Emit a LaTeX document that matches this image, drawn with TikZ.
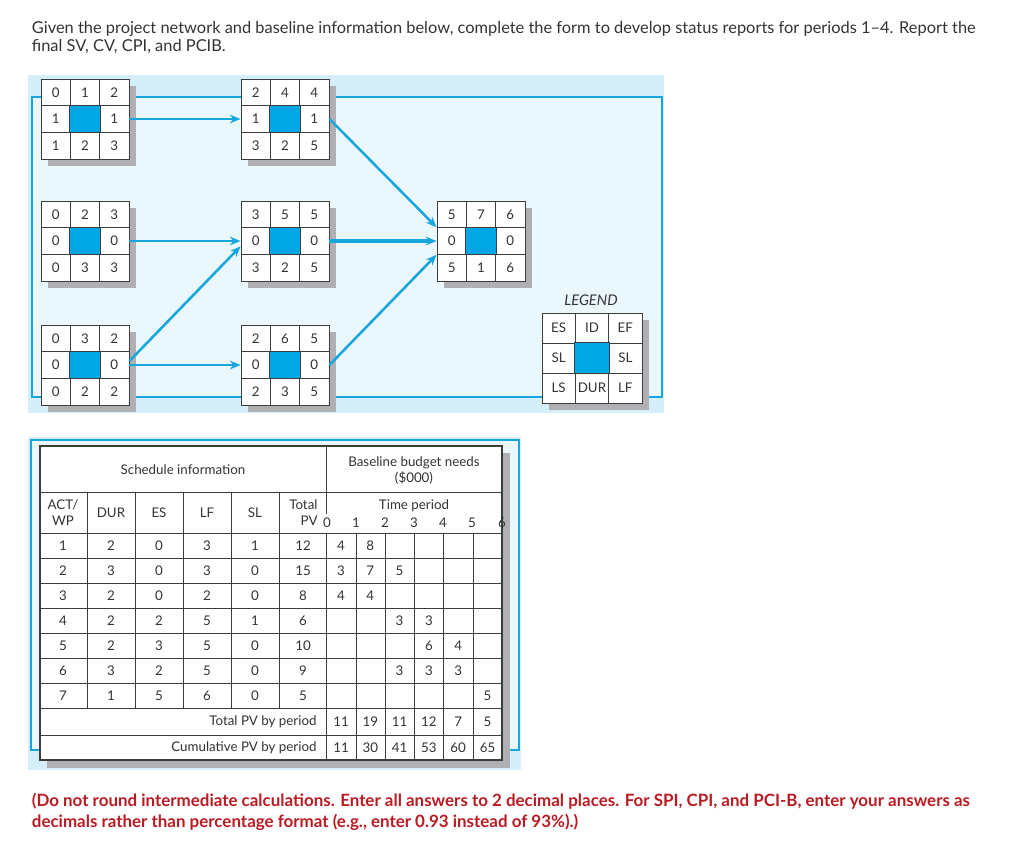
\documentclass[tikz,border=0pt]{standalone}
\usepackage{fontspec}
\setmainfont{Lato}
\usetikzlibrary{arrows.meta}
\definecolor{bgdark}{HTML}{D4EEFA}
\definecolor{bglight}{HTML}{EAF7FD}
\definecolor{flowblue}{HTML}{18A6DF}
\definecolor{idblue}{HTML}{00A7E5}
\definecolor{shadegrey}{HTML}{B0B0B4}
\definecolor{cellline}{HTML}{3C3C3C}
\definecolor{txtgrey}{HTML}{333333}
\definecolor{alertred}{HTML}{BA1A22}

\begin{document}
\begin{tikzpicture}[x=0.75pt,y=-0.75pt,line width=0.7pt,
  cell/.style={draw=cellline,fill=white,inner sep=0pt,text=txtgrey,font=\fontsize{10}{12}\selectfont},
  flow/.style={draw=flowblue,line width=1.9pt,-{Stealth[length=8pt,width=6.5pt]}},
  tab/.style={inner sep=0pt,text=txtgrey,font=\fontsize{10}{12}\selectfont}]
  \useasboundingbox (0,0) rectangle (1024,853);
  \def\actbox(#1)(#2,#3)(#4,#5)(#6){%
    \fill[shadegrey] ({#2+7},{#3+7}) rectangle ++({3*#4},{3*#5});
    \foreach \v [count=\k from 0] in {#6} {
      \pgfmathtruncatemacro\ri{div(\k,3)}
      \pgfmathtruncatemacro\ci{mod(\k,3)}
      \node[cell,minimum width={#4*0.75pt},minimum height={#5*0.75pt}] (#1-\ri\ci)
        at ({#2+(\ci+0.5)*#4},{#3+(\ri+0.5)*#5}) {\v};
    }
    \fill[idblue,draw=cellline] (#1-11.south west) rectangle (#1-11.north east);
  }

  \node[anchor=base west,text=txtgrey,font=\fontsize{12.3}{14}\selectfont] (q1) at (27,33)
    {Given the project network and baseline information below, complete the form to develop status reports for periods 1--4. Report the};
  \node[anchor=base west,text=txtgrey,font=\fontsize{12.3}{14}\selectfont] (q2) at (27,51)
    {final SV, CV, CPI, and PCIB.};

  \fill[bgdark] (28,75) rectangle (664,413);
  \draw[flowblue,fill=bglight,line width=1.2pt] (32,97) rectangle (662,397);

  \actbox(a1)(41,79)(29.33,26.67)(0,1,2,1,{},1,1,2,3)
  \actbox(a4)(241,79)(29.33,26.67)(2,4,4,1,{},1,3,2,5)
  \actbox(a2)(41,201)(29.33,26.67)(0,2,3,0,{},0,0,3,3)
  \actbox(a5)(241,201)(29.33,26.67)(3,5,5,0,{},0,3,2,5)
  \actbox(a7)(437,201)(29.33,26.67)(5,7,6,0,{},0,5,1,6)
  \actbox(a3)(41,325)(29.33,26.67)(0,3,2,0,{},0,0,2,2)
  \actbox(a6)(241,325)(29.33,26.67)(2,6,5,0,{},0,2,3,5)
  \actbox(lg)(542,313)(33.33,30)(ES,ID,EF,SL,{},SL,LS,DUR,LF)
  \node[tab,font=\fontsize{11}{13}\selectfont\itshape] (lgtitle) at (591,300) {LEGEND};

  \draw[flow] (a1-12.east) -- (a4-10.west);
  \draw[flow] (a4-12.east) -- (a7-10.north west);
  \draw[flow] (a2-12.east) -- (a5-10.west);
  \draw[flow] ([yshift=3pt]a3-12.east) -- ([yshift=-4pt]a5-10.west);
  \draw[flow] (a3-12.east) -- (a6-10.west);
  \draw[flow,line width=2.8pt] (a5-12.east) -- (a7-10.west);
  \draw[flow] (a6-12.east) -- (a7-10.south west);

  \fill[bgdark] (28,437) rectangle (521,770);
  \draw[flowblue,fill=bglight,line width=1.2pt] (31,440) rectangle (519,750);
  \fill[shadegrey] (47,453) rectangle (510,768);
  \draw[fill=white,draw=cellline,line width=1.1pt] (40,446) rectangle (502,760);
  \draw[cellline] (40,492) -- (502,492);
  \foreach \y in {533,558,...,708} \draw[cellline] (40,\y) -- (502,\y);
  \draw[cellline] (40,735) -- (502,735);
  \foreach \x in {87,135,183,231,279} \draw[cellline] (\x,492) -- (\x,708);
  \draw[cellline] (326,446) -- (326,514) (326,533) -- (326,760);
  \foreach \x in {356,385,414,443,473} \draw[cellline] (\x,533) -- (\x,760);

  \node[tab] (sched) at (183,470) {Schedule information};
  \node[tab,align=center] (budget) at (414,471) {Baseline budget needs\\(\$000)};
  \node[tab,align=center] (hact) at (63,513) {ACT/\\WP};
  \foreach \t/\x in {DUR/111,ES/159,LF/207,SL/255} \node[tab] (h\t) at (\x,513) {\t};
  \node[tab,align=right,anchor=east] (htot) at (318,513) {Total\\PV};
  \node[tab] (htime) at (414,506) {Time period};
  \foreach \x [count=\i from 0] in {327,356,385,414,443,472,502} \node[tab] (tp\i) at (\x,523) {\i};

  \foreach \vals [count=\r] in {{1,2,0,3,1,12,4,8,{},{},{},{}},
                                {2,3,0,3,0,15,3,7,5,{},{},{}},
                                {3,2,0,2,0,8,4,4,{},{},{},{}},
                                {4,2,2,5,1,6,{},{},3,3,{},{}},
                                {5,2,3,5,0,10,{},{},{},6,4,{}},
                                {6,3,2,5,0,9,{},{},3,3,3,{}},
                                {7,1,5,6,0,5,{},{},{},{},{},5}} {
    \foreach \v [count=\c] in \vals {
      \pgfmathsetmacro\xc{{63,111,159,207,255,303,341,370.3,399.6,428.9,458.2,487.5}[\c-1]}
      \node[tab] (d\r-\c) at (\xc,{520.5+25*\r}) {\v};
    }
  }
  \node[tab,anchor=east] (totlbl) at (317,722) {Total PV by period};
  \node[tab,anchor=east] (cumlbl) at (317,748) {Cumulative PV by period};
  \foreach \v/\w [count=\c] in {11/11,19/30,11/41,12/53,7/60,5/65} {
    \node[tab] (tot\c) at ({341+29.3*(\c-1)},722) {\v};
    \node[tab] (cum\c) at ({341+29.3*(\c-1)},748) {\w};
  }

  \node[anchor=base west,text=alertred,font=\fontsize{12.7}{14}\selectfont\bfseries] (n1) at (27,806)
    {(Do not round intermediate calculations. Enter all answers to 2 decimal places. For SPI, CPI, and PCI-B, enter your answers as};
  \node[anchor=base west,text=alertred,font=\fontsize{12.7}{14}\selectfont\bfseries] (n2) at (27,827)
    {decimals rather than percentage format (e.g., enter 0.93 instead of 93\%).)};
\end{tikzpicture}
\end{document}
